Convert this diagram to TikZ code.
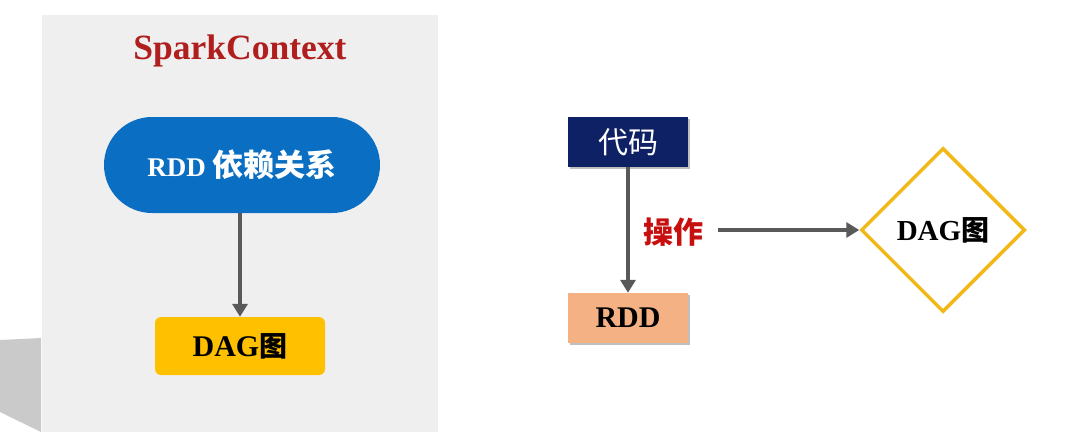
\documentclass[tikz,border=0pt]{standalone}
\usepackage{fontspec}
\setmainfont{Liberation Serif}
\newfontfamily\cjk{Noto Sans CJK SC}
\usetikzlibrary{arrows.meta,shapes.geometric,shadows}
\definecolor{panelgray}{HTML}{EFEFEF}
\definecolor{shadowgray}{HTML}{CACACA}
\definecolor{sparkred}{HTML}{B01E1E}
\definecolor{stadblue}{HTML}{0A6FC2}
\definecolor{goldfill}{HTML}{FFC000}
\definecolor{navy}{HTML}{0F2165}
\definecolor{salmon}{HTML}{F4B183}
\definecolor{oprred}{HTML}{C80F0F}
\definecolor{arrowgray}{HTML}{595959}
\definecolor{diamondgold}{HTML}{F2B817}
\tikzset{
  conn/.style={draw=arrowgray,line width=3.5pt,-{Triangle[width=15pt,length=13pt]}},
  boxshadow/.style={drop shadow={shadow xshift=2pt,shadow yshift=-2pt,fill=black,opacity=0.25}},
  rightbox/.style={rectangle,minimum width=120pt,minimum height=50pt,inner sep=0pt,boxshadow},
}
\begin{document}
\begin{tikzpicture}[x=1pt,y=-1pt]
\useasboundingbox (0,0) rectangle (1068,432);
\fill[white] (0,0) rectangle (1068,432);
% shadow at lower left
\fill[shadowgray] (0,340) -- (41,338) -- (41,432) -- (0,412) -- cycle;
% panel
\fill[panelgray] (42,15) rectangle (438,432);
\node[text=sparkred,font=\fontsize{35.5}{40}\selectfont\bfseries,inner sep=0pt] (title) at (240,51) {SparkContext};
\node[rectangle,fill=stadblue,rounded corners=48pt,minimum width=276pt,minimum height=96pt,inner sep=0pt,text=white] (deps) at (242,165)
  {\fontsize{27}{30}\selectfont\bfseries RDD {\cjk\fontsize{31}{34}\selectfont\bfseries 依赖关系}};
\node[rectangle,fill=goldfill,rounded corners=6pt,minimum width=170pt,minimum height=58pt,inner sep=0pt] (dagl) at (240,346)
  {\fontsize{30}{34}\selectfont\bfseries DAG{\cjk\fontsize{28}{32}\selectfont\bfseries 图}};
\draw[conn] (deps.south -| dagl.north) -- (dagl.north);
% right part
\node[rightbox,fill=navy,text=white] (code) at (628,142) {\cjk\fontsize{30}{33}\selectfont 代码};
\node[rightbox,fill=salmon] (rdd) at (628,318) {\fontsize{30}{34}\selectfont\bfseries RDD};
\draw[conn] (code.south) -- (rdd.north);
\node[text=oprred,inner sep=0pt] (op) at (673,232) {\cjk\fontsize{30}{33}\selectfont\bfseries 操作};
\node[diamond,draw=diamondgold,fill=white,line width=3.5pt,minimum width=164pt,minimum height=164pt,inner sep=0pt] (dagr) at (943,230)
  {\fontsize{29}{32}\selectfont\bfseries DAG{\cjk\fontsize{28}{30}\selectfont\bfseries 图}};
\draw[conn] ([xshift=15pt]op.east |- dagr.west) -- (dagr.west);
\end{tikzpicture}
\end{document}
